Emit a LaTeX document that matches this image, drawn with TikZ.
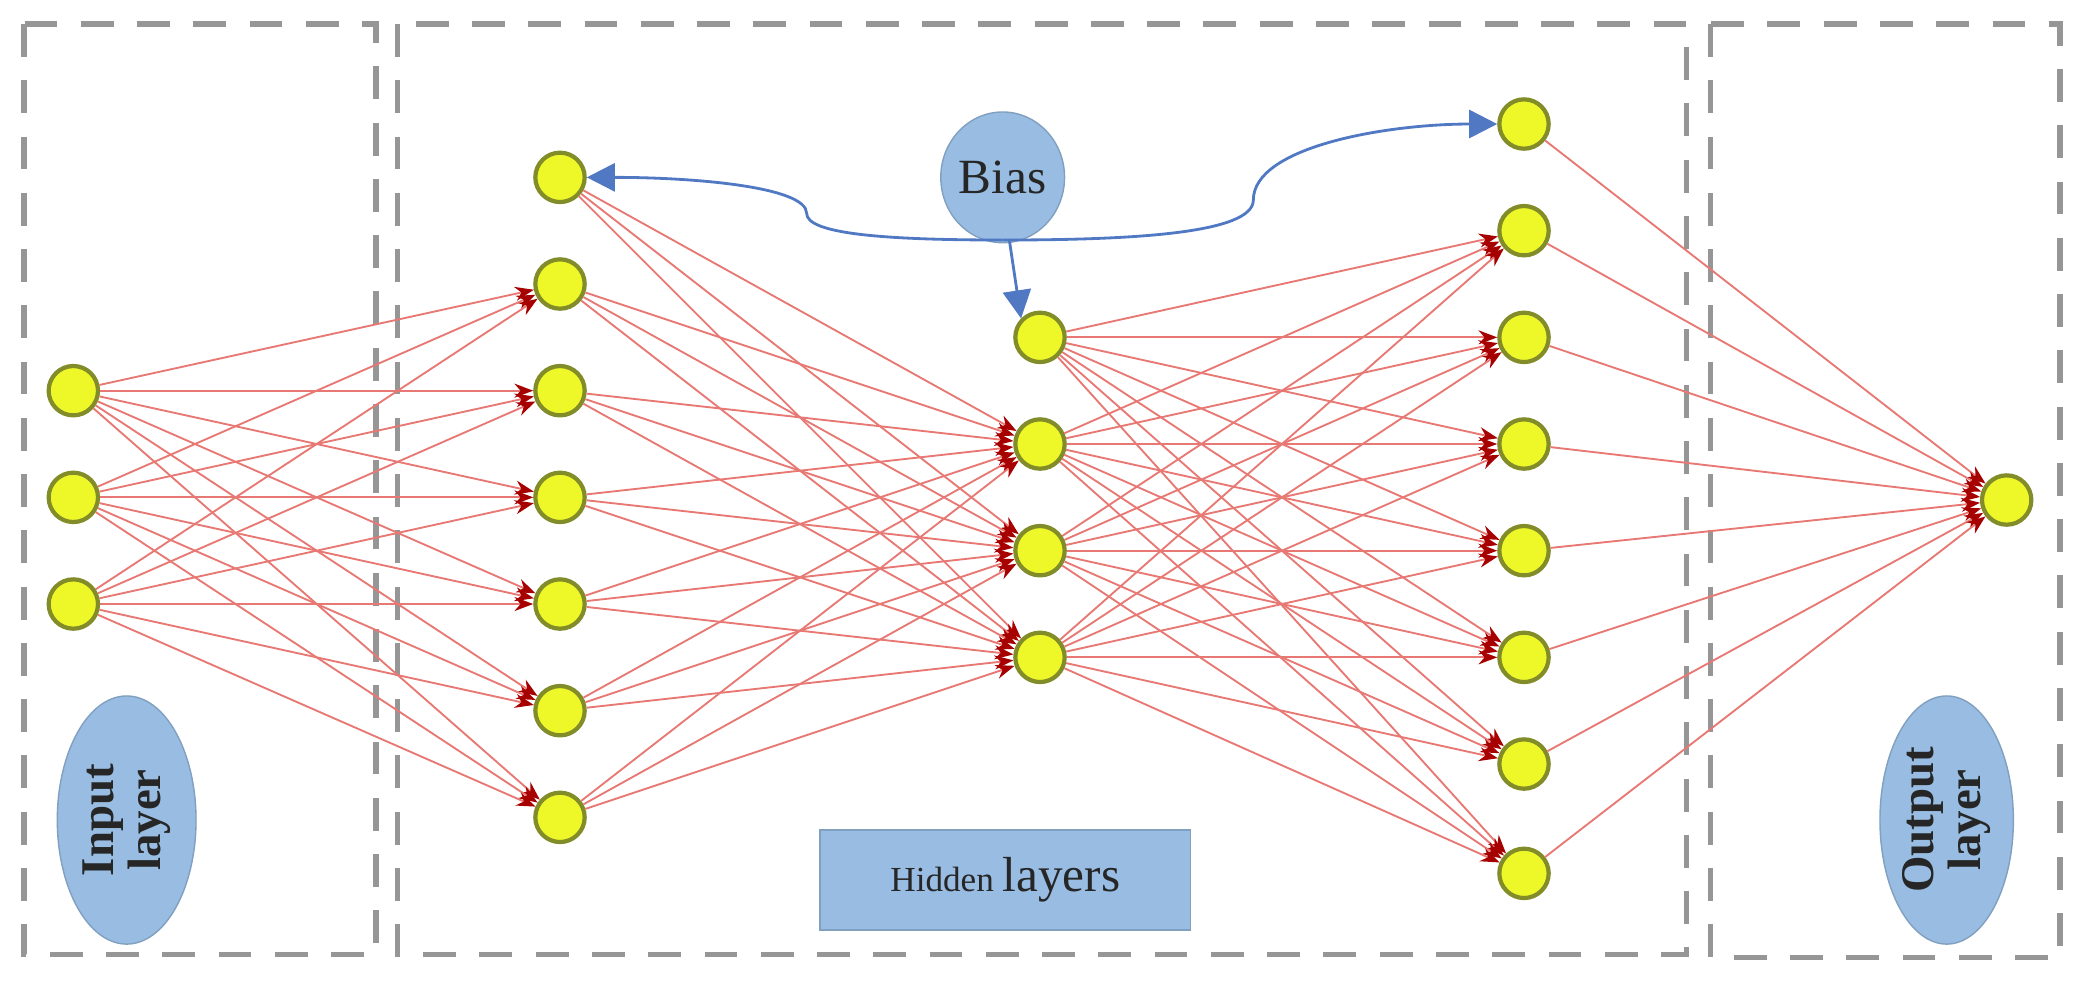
\documentclass[tikz,border=0pt]{standalone}
\usepackage{fontspec}
\setmainfont{Liberation Serif}
\usetikzlibrary{arrows.meta,shapes.geometric}
\definecolor{nfill}{RGB}{238,248,40}
\definecolor{nline}{RGB}{130,140,40}
\definecolor{redl}{RGB}{232,120,115}
\definecolor{bfill}{RGB}{152,188,226}
\definecolor{barrow}{RGB}{80,120,195}
\definecolor{dgray}{RGB}{150,150,150}
\tikzset{
  neuron/.style={circle,draw=nline,fill=nfill,line width=0.9pt,minimum size=0.37cm,inner sep=0pt},
  link/.style={draw=redl,line width=0.4pt,-{Stealth[length=4pt,width=3pt,color=red!65!black]}},
  frame/.style={draw=dgray,line width=1.1pt,dash pattern=on 7pt off 5pt},
  lab/.style={ellipse,fill=bfill,draw=bfill!85!black,line width=0.3pt,inner sep=0pt},
  labtxt/.style={rotate=90,align=center,font=\bfseries\fontsize{10}{10}\selectfont,text=black!85},
  biasar/.style={draw=barrow,line width=0.6pt,-{Triangle[length=6pt,width=6pt]}}
}
\begin{document}
\begin{tikzpicture}[x=0.01cm,y=-0.01cm]
\useasboundingbox (0,0) rectangle (1563,741);
% frames
\draw[frame] (18,18) rectangle (282,716);
\draw[frame] (298,18) rectangle (1265,716);
\draw[frame] (1283,18) rectangle (1545,718);
% labels
\node[lab,minimum width=1.04cm,minimum height=1.86cm] (inlab) at (95,615) {};
\node[labtxt] at (inlab) {Input\\layer};
\node[lab,minimum width=1.0cm,minimum height=1.86cm] (outlab) at (1460,615) {};
\node[labtxt] at (outlab) {Output\\layer};
\node[fill=bfill,draw=bfill!85!black,line width=0.3pt,minimum width=2.78cm,minimum height=0.75cm,inner sep=0pt] (hid) at (754,660) {};
\node[text=black!85] at (hid) {\fontsize{7.5}{8}\selectfont Hidden \fontsize{10.5}{10}\selectfont layers};
\node[lab,minimum width=0.82cm,minimum height=0.98cm,font=\fontsize{10.5}{10}\selectfont,text=black!85] (bias) at (752,133) {Bias};
% neurons
\foreach \i/\y in {1/293,2/373,3/453} \node[neuron] (a\i) at (55,\y) {};
\foreach \i/\y in {1/133,2/213,3/293,4/373,5/453,6/533,7/613} \node[neuron] (b\i) at (420,\y) {};
\foreach \i/\y in {1/253,2/333,3/413,4/493} \node[neuron] (c\i) at (780,\y) {};
\foreach \i/\y in {1/93,2/173,3/253,4/333,5/413,6/493,7/573,8/655} \node[neuron] (d\i) at (1143,\y) {};
\node[neuron] (o) at (1505,375) {};
% links
\foreach \i in {1,2,3} \foreach \j in {2,...,7} \draw[link] (a\i) -- (b\j);
\foreach \i in {1,...,7} \foreach \j in {2,3,4} \draw[link] (b\i) -- (c\j);
\foreach \i in {1,...,4} \foreach \j in {2,...,8} \draw[link] (c\i) -- (d\j);
\foreach \i in {1,...,8} \draw[link] (d\i) -- (o);
% bias
\coordinate (bb) at (752,180);
\draw[biasar] (bb) .. controls (660,180) and (605,175) .. (605,160) .. controls (605,140) and (520,133) .. (b1.east);
\draw[biasar] (bb) .. controls (850,180) and (940,175) .. (940,150) .. controls (940,110) and (1040,93) .. (d1.west);
\draw[biasar] (757,180) -- (c1.north west);
\end{tikzpicture}
\end{document}
